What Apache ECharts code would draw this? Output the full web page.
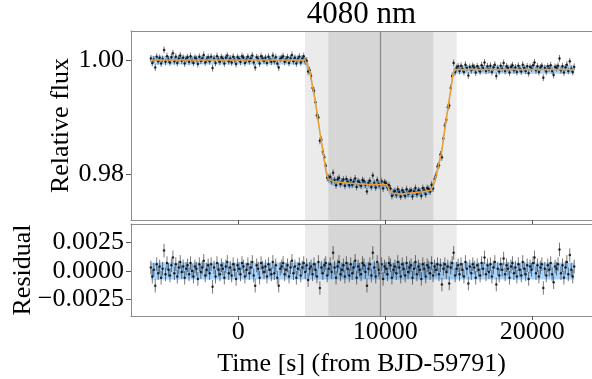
<!DOCTYPE html>
<html>
<head>
<meta charset="utf-8">
<script src="https://cdn.jsdelivr.net/npm/echarts@6/dist/echarts.min.js"></script>
<style>
html,body{margin:0;padding:0;background:#fff;}
#chart{width:592px;height:379px;}
</style>
</head>
<body>
<div id="chart"></div>
<script>
// ---------- data ----------
const times = [
-5950,-5850,-5750,-5650,-5550,-5450,-5350,-5250,-5150,-5050,
-4950,-4850,-4750,-4650,-4550,-4450,-4350,-4250,-4150,-4050,
-3950,-3850,-3750,-3650,-3550,-3450,-3350,-3250,-3150,-3050,
-2950,-2850,-2750,-2650,-2550,-2450,-2350,-2250,-2150,-2050,
-1950,-1850,-1750,-1650,-1550,-1450,-1350,-1250,-1150,-1050,
-950,-850,-750,-650,-550,-450,-350,-250,-150,-50,
50,150,250,350,450,550,650,750,850,950,
1050,1150,1250,1350,1450,1550,1650,1750,1850,1950,
2050,2150,2250,2350,2450,2550,2650,2750,2850,2950,
3050,3150,3250,3350,3450,3550,3650,3750,3850,3950,
4050,4150,4250,4350,4450,4550,4650,4750,4850,4950,
5050,5150,5250,5350,5450,5550,5650,5750,5850,5950,
6050,6150,6250,6350,6450,6550,6650,6750,6850,6950,
7050,7150,7250,7350,7450,7550,7650,7750,7850,7950,
8050,8150,8250,8350,8450,8550,8650,8750,8850,8950,
9050,9150,9250,9350,9450,9550,9650,9750,9850,9950,
10050,10150,10250,10350,10450,10550,10650,10750,10850,10950,
11050,11150,11250,11350,11450,11550,11650,11750,11850,11950,
12050,12150,12250,12350,12450,12550,12650,12750,12850,12950,
13050,13150,13250,13350,13450,13550,13650,13750,13850,13950,
14050,14150,14250,14350,14450,14550,14650,14750,14850,14950,
15050,15150,15250,15350,15450,15550,15650,15750,15850,15950,
16050,16150,16250,16350,16450,16550,16650,16750,16850,16950,
17050,17150,17250,17350,17450,17550,17650,17750,17850,17950,
18050,18150,18250,18350,18450,18550,18650,18750,18850,18950,
19050,19150,19250,19350,19450,19550,19650,19750,19850,19950,
20050,20150,20250,20350,20450,20550,20650,20750,20850,20950,
21050,21150,21250,21350,21450,21550,21650,21750,21850,21950,
22050,22150,22250,22350,22450,22550,22650,22750,22850];

const relativeFlux = [
1.0003,0.9995,1.0001,0.9987,1.0006,0.9998,1.0004,0.9994,1.0002,1.0018,
0.9997,1.0007,1.0001,0.9996,1.0005,1.0012,0.9998,1.0006,0.9995,1.0003,
1.0008,0.9999,1.0004,0.9994,1.0002,1.0005,0.9997,1.0007,1.0000,0.9995,
1.0004,1.0002,0.9993,1.0006,0.9999,1.0003,1.0009,0.9996,1.0001,1.0005,
0.9998,1.0006,0.9986,1.0003,0.9995,1.0007,1.0001,0.9997,1.0005,1.0002,
0.9994,1.0004,1.0008,0.9998,1.0003,0.9996,1.0006,1.0001,0.9993,1.0005,
1.0002,0.9997,1.0007,1.0004,0.9995,1.0001,1.0006,0.9998,1.0003,1.0008,
0.9996,0.9987,1.0005,1.0002,0.9994,1.0007,1.0003,0.9999,1.0004,0.9995,
1.0006,1.0001,0.9997,1.0008,0.9998,1.0005,0.9994,0.9987,1.0002,1.0004,
1.0007,0.9997,1.0001,1.0005,0.9995,1.0003,1.0009,0.9998,1.0004,0.9994,
1.0002,1.0006,0.9996,1.0003,1.0007,0.9998,0.9999,0.9980,0.9982,0.9972,
0.9951,0.9946,0.9926,0.9903,0.9899,0.9858,0.9860,0.9839,0.9829,0.9814,
0.9793,0.9793,0.9795,0.9787,0.9802,0.9789,0.9780,0.9790,0.9793,0.9782,
0.9786,0.9790,0.9779,0.9791,0.9786,0.9780,0.9789,0.9781,0.9786,0.9792,
0.9777,0.9787,0.9784,0.9779,0.9789,0.9787,0.9781,0.9769,0.9784,0.9788,
0.9777,0.9797,0.9784,0.9776,0.9789,0.9782,0.9779,0.9787,0.9774,0.9785,
0.9783,0.9776,0.9780,0.9774,0.9761,0.9767,0.9770,0.9763,0.9773,0.9768,
0.9760,0.9771,0.9767,0.9761,0.9773,0.9765,0.9769,0.9771,0.9760,0.9769,
0.9775,0.9764,0.9771,0.9769,0.9761,0.9775,0.9771,0.9764,0.9775,0.9773,
0.9769,0.9781,0.9774,0.9791,0.9798,0.9813,0.9815,0.9834,0.9829,0.9862,
0.9885,0.9895,0.9917,0.9920,0.9951,0.9972,0.9995,0.9979,0.9986,0.9989,
0.9981,0.9990,0.9985,0.9979,0.9992,0.9986,0.9973,0.9988,0.9982,0.9990,
0.9987,0.9978,0.9989,0.9985,0.9980,0.9991,0.9986,0.9996,0.9981,0.9989,
0.9983,0.9990,0.9979,0.9987,0.9992,0.9972,0.9986,0.9980,0.9990,0.9985,
0.9995,0.9981,0.9989,0.9986,0.9978,0.9988,0.9991,0.9982,0.9987,0.9979,
0.9990,0.9985,0.9980,0.9992,0.9986,0.9981,0.9989,0.9977,0.9988,0.9985,
0.9991,0.9996,0.9982,0.9989,0.9979,0.9987,0.9990,0.9969,0.9986,0.9980,
0.9989,0.9985,0.9991,0.9981,0.9974,0.9988,0.9986,0.9990,1.0003,0.9982,
0.9989,0.9978,0.9987,0.9992,0.9981,0.9998,0.9985,0.9979,0.9988];

// residuals in units of 1e-4
const residualE4 = [
3,-5,1,-13,6,-2,4,-6,2,18,
-3,7,1,-4,5,12,-2,6,-5,3,
8,-1,4,-6,2,5,-3,7,0,-5,
4,2,-7,6,-1,3,9,-4,1,5,
-2,6,-14,3,-5,7,1,-3,5,2,
-6,4,8,-2,3,-4,6,1,-7,5,
2,-3,7,4,-5,1,6,-2,3,8,
-4,-13,5,2,-6,7,3,-1,4,-5,
6,1,-3,8,-2,5,-6,-13,2,4,
7,-3,1,5,-5,3,9,-2,4,-6,
2,6,-4,3,7,-1,5,-8,2,4,
-3,6,1,-5,8,-15,3,-2,5,7,
-4,2,6,-1,16,3,-6,4,8,-3,
1,5,-5,7,2,-4,6,-2,3,9,
-6,4,1,-3,7,5,-1,-13,2,6,
-4,16,3,-5,8,1,-2,6,-7,4,
2,-3,7,5,-6,1,4,-2,8,3,
-5,6,2,-4,7,-1,3,5,-6,2,
8,-3,4,1,-7,6,2,-5,5,3,
-2,7,-4,4,1,6,-3,5,-12,2,
6,-1,4,-11,3,7,16,-4,2,5,
-3,6,1,-5,8,2,-11,4,-2,6,
3,-6,5,1,-4,7,2,12,-3,5,
-1,6,-5,3,8,-12,2,-4,6,1,
11,-3,5,2,-6,4,7,-2,3,-5,
6,1,-4,8,2,-3,5,-7,4,1,
7,12,-2,5,-5,3,6,-15,2,-4,
5,1,7,-3,-10,4,2,6,19,-2,
5,-6,3,8,-3,14,1,-5,4];

const modelTime = [-5950,4537,4741,4878,5218,5558,5762,5966,6122,6463,7599,8735,10095,10150,10300,10544,11000,12136,13041,13245,13497,13837,14061,14626,14776,22850];
const modelFlux = [1.0000,1.0000,0.9989,0.9978,0.9931,0.9872,0.9839,0.9804,0.9791,0.97864,0.97836,0.97818,0.97806,0.97790,0.97700,0.97659,0.97647,0.97670,0.97705,0.97776,0.98012,0.98388,0.98812,0.99778,0.99836,0.99836];

const fluxErr = 0.0006;
const modelBandHalf = 0.00075;

const xTicks = [0, 10000, 20000];
const fluxTicks = [0.98, 1.00];
const residTicks = [-0.0025, 0, 0.0025];

const outerWindow = [4537, 14857];
const innerWindow = [6122, 13265];
const midTime = 9660;

const xRange = [-7299, 24061];
const fluxRange = [0.97188, 1.00512];
const residRange = [-0.00398, 0.00415];

// ---------- chart ----------
const residual = residualE4.map(v => v * 1e-4);
const FONT = 'Liberation Serif, Times New Roman, serif';
const AX = '#8c8c8c';

function errorBars(xi, yi, vals) {
  return {
    type: 'custom', xAxisIndex: xi, yAxisIndex: yi, z: 3, silent: true, clip: true,
    encode: {x: 0, y: [1, 2]},
    data: times.map((t, i) => [t, vals[i] - fluxErr, vals[i] + fluxErr]),
    renderItem: (params, api) => {
      const a = api.coord([api.value(0), api.value(1)]);
      const b = api.coord([api.value(0), api.value(2)]);
      return {type: 'line', shape: {x1: a[0], y1: a[1], x2: b[0], y2: b[1]},
        style: {stroke: 'rgba(30,30,30,0.6)', lineWidth: 1}};
    }
  };
}

function band(xi, yi, tArr, cArr) {
  return {
    type: 'custom', xAxisIndex: xi, yAxisIndex: yi, z: 2, silent: true, clip: true,
    data: [[tArr[0], cArr[0]]],
    renderItem: (params, api) => {
      const pts = [];
      for (let i = 0; i < tArr.length; i++) pts.push(api.coord([tArr[i], cArr[i] + modelBandHalf]));
      for (let i = tArr.length - 1; i >= 0; i--) pts.push(api.coord([tArr[i], cArr[i] - modelBandHalf]));
      return {type: 'polygon', shape: {points: pts}, style: {fill: 'rgba(30,144,255,0.38)'}};
    }
  };
}

function shading(xi, yi) {
  return {
    type: 'line', xAxisIndex: xi, yAxisIndex: yi, z: 1, silent: true, data: [],
    markArea: {
      silent: true,
      data: [
        [{xAxis: outerWindow[0], itemStyle: {color: '#ebebeb'}}, {xAxis: outerWindow[1]}],
        [{xAxis: innerWindow[0], itemStyle: {color: '#d6d6d6'}}, {xAxis: innerWindow[1]}]
      ]
    },
    markLine: {
      silent: true, symbol: 'none', label: {show: false},
      lineStyle: {color: '#8a8a8a', width: 1.3, type: 'solid'},
      data: [{xAxis: midTime}]
    }
  };
}

function xAxisDef(grid, showLabels, pos, ticks) {
  return {
    type: 'value', gridIndex: grid, position: pos, min: xRange[0], max: xRange[1], z: 10,
    splitLine: {show: false},
    axisLine: {show: true, onZero: false, lineStyle: {color: AX, width: 1}},
    axisTick: {show: ticks, inside: false, length: 4, customValues: xTicks, lineStyle: {color: '#555'}},
    axisLabel: {show: showLabels, customValues: xTicks, margin: 3, color: '#000',
      fontFamily: FONT, fontSize: 26, formatter: v => String(v)},
  };
}

function yAxisDef(grid, range, ticks, fmt, name, gap) {
  return {
    type: 'value', gridIndex: grid, min: range[0], max: range[1], z: 10,
    splitLine: {show: false},
    axisLine: {show: true, onZero: false, lineStyle: {color: AX}},
    axisTick: {show: true, length: 5, customValues: ticks, lineStyle: {color: '#555'}},
    axisLabel: {customValues: ticks, margin: 7, color: '#000', fontFamily: FONT, fontSize: 26, formatter: fmt},
    name: name, nameLocation: 'middle', nameGap: gap, nameMoveOverlap: false,
    nameTextStyle: {fontFamily: FONT, fontSize: 26, color: '#000'}
  };
}

const option = {
  animation: false,
  backgroundColor: '#fff',
  grid: [
    {left: 131, top: 31, width: 461, height: 189, show: false, outerBoundsMode: 'none', containLabel: false},
    {left: 131, top: 224, width: 461, height: 92, show: false, outerBoundsMode: 'none', containLabel: false}
  ],
  xAxis: [
    xAxisDef(0, false, 'bottom', true),
    xAxisDef(0, false, 'top', false),
    Object.assign(xAxisDef(1, true, 'bottom', true), {
      name: 'Time [s] (from BJD-59791)', nameLocation: 'middle', nameGap: 35, nameMoveOverlap: false,
      nameTextStyle: {fontFamily: FONT, fontSize: 26, color: '#000'}
    }),
    xAxisDef(1, false, 'top', false)
  ],
  yAxis: [
    yAxisDef(0, fluxRange, fluxTicks, v => v.toFixed(2), 'Relative flux', 57),
    yAxisDef(1, residRange, residTicks, v => v.toFixed(4).replace('-', '\u2212'), 'Residual', 95)
  ],
  graphic: [{
    type: 'text', x: 361.5, y: 15,
    style: {text: '4080 nm', font: '31px ' + FONT, fill: '#000', align: 'center', verticalAlign: 'middle'}
  }],
  series: [
    shading(0, 0),
    band(0, 0, modelTime, modelFlux),
    errorBars(0, 0, relativeFlux),
    {type: 'scatter', xAxisIndex: 0, yAxisIndex: 0, z: 4, silent: true, symbolSize: 2.5,
      itemStyle: {color: '#000'}, data: times.map((t, i) => [t, relativeFlux[i]])},
    {type: 'line', xAxisIndex: 0, yAxisIndex: 0, z: 5, silent: true, showSymbol: false,
      lineStyle: {color: '#f0a030', width: 1.5}, data: modelTime.map((t, i) => [t, modelFlux[i]])},

    shading(2, 1),
    band(2, 1, [times[0], times[times.length - 1]], [0, 0]),
    errorBars(2, 1, residual),
    {type: 'scatter', xAxisIndex: 2, yAxisIndex: 1, z: 4, silent: true, symbolSize: 2.5,
      itemStyle: {color: '#000'}, data: times.map((t, i) => [t, residual[i]])}
  ]
};

const chart = echarts.init(document.getElementById('chart'), null, {renderer: 'canvas'});
chart.setOption(option);
</script>
</body>
</html>
